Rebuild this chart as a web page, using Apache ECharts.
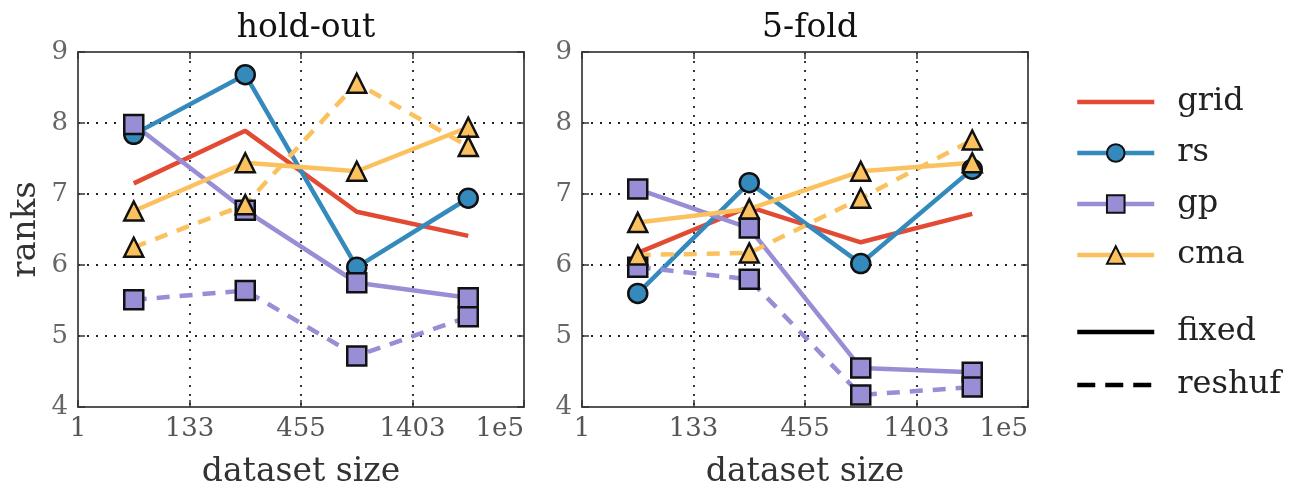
<!DOCTYPE html>
<html>
<head>
<meta charset="utf-8">
<script src="https://cdn.jsdelivr.net/npm/echarts@6/dist/echarts.min.js"></script>
<style>
  html, body { margin: 0; padding: 0; background: #fff; }
  #chart { width: 1290px; height: 497px; }
</style>
</head>
<body>
<div id="chart"></div>
<script>
// x tick labels (dataset size bins) and bin centres
var xLabels = ["1", "133", "455", "1403", "1e5"];
var xPos = [0.5, 1.5, 2.5, 3.5];

// hold-out panel
var holdGrid = [7.15, 7.89, 6.75, 6.41];
var holdRs = [7.84, 8.68, 5.97, 6.94];
var holdGp = [7.98, 6.77, 5.75, 5.54];
var holdCma = [6.76, 7.44, 7.32, 7.94];
var holdGpReshuf = [5.51, 5.64, 4.72, 5.27];
var holdCmaReshuf = [6.25, 6.85, 8.56, 7.67];

// 5-fold panel
var foldGrid = [6.17, 6.82, 6.32, 6.72];
var foldRs = [5.6, 7.16, 6.02, 7.35];
var foldGp = [7.07, 6.52, 4.55, 4.49];
var foldCma = [6.6, 6.79, 7.32, 7.44];
var foldGpReshuf = [5.97, 5.8, 4.17, 4.28];
var foldCmaReshuf = [6.14, 6.17, 6.94, 7.76];

var colors = { grid: "#E24A33", rs: "#348ABD", gp: "#988ED5", cma: "#FBC15E" };
var symbols = { grid: "none", rs: "circle", gp: "rect", cma: "triangle" };
var FONT = "DejaVu Serif";
var dash = [13, 10];
var LW = 4.5;

function pts(vals) {
    return vals.map(function(v, i) { return [xPos[i], v]; });
}

function mkSeries(name, vals, panel, reshuf) {
    return {
        name: name,
        type: "line",
        xAxisIndex: panel * 2,
        yAxisIndex: panel * 2,
        data: pts(vals),
        symbol: symbols[name],
        showSymbol: name !== "grid",
        symbolSize: 19,
        color: colors[name],
        itemStyle: { color: colors[name], borderColor: "#111", borderWidth: 2.5 },
        lineStyle: { width: LW, color: colors[name], type: reshuf ? dash : "solid" },
        emphasis: { disabled: true },
        animation: false,
        z: 3
    };
}

function xAxes(panel) {
    var base = {
        type: "value", gridIndex: panel, min: 0, max: 4, interval: 1,
        axisLine: { show: true, onZero: false, lineStyle: { color: "#555", width: 2 } },
        axisTick: { show: true, inside: true, length: 7, lineStyle: { color: "#333", width: 1.5 } },
        splitLine: { show: false }
    };
    var bottom = Object.assign({}, base, {
        position: "bottom",
        name: "dataset size", nameLocation: "middle", nameGap: 49,
        nameTextStyle: { fontFamily: FONT, fontSize: 33, color: "#333" },
        axisLabel: {
            fontFamily: FONT, fontSize: 26, color: "#555", margin: 9,
            alignMaxLabel: "right",
            formatter: function(v) { return xLabels[Math.round(v)]; }
        },
        splitLine: { show: true, lineStyle: { color: "#222", width: 1.8, type: [2, 7] } }
    });
    var top = Object.assign({}, base, { position: "top", axisLabel: { show: false } });
    return [bottom, top];
}

function yAxes(panel) {
    var base = {
        type: "value", gridIndex: panel, min: 4, max: 9, interval: 1,
        axisLine: { show: true, onZero: false, lineStyle: { color: "#555", width: 2 } },
        axisTick: { show: true, inside: true, length: 7, lineStyle: { color: "#333", width: 1.5 } },
        splitLine: { show: false }
    };
    var left = Object.assign({}, base, {
        position: "left",
        axisLabel: { fontFamily: FONT, fontSize: 26, color: "#666", margin: 10 },
        splitLine: { show: true, lineStyle: { color: "#222", width: 1.8, type: [2, 7] } }
    });
    if (panel === 0) {
        left.name = "ranks";
        left.nameLocation = "middle";
        left.nameGap = 35;
        left.nameTextStyle = { fontFamily: FONT, fontSize: 34, color: "#333" };
    }
    var right = Object.assign({}, base, { position: "right", axisLabel: { show: false } });
    return [left, right];
}

var series = [
    mkSeries("grid", holdGrid, 0, false),
    mkSeries("rs", holdRs, 0, false),
    mkSeries("gp", holdGp, 0, false),
    mkSeries("cma", holdCma, 0, false),
    mkSeries("gp", holdGpReshuf, 0, true),
    mkSeries("cma", holdCmaReshuf, 0, true),
    mkSeries("grid", foldGrid, 1, false),
    mkSeries("rs", foldRs, 1, false),
    mkSeries("gp", foldGp, 1, false),
    mkSeries("cma", foldCma, 1, false),
    mkSeries("gp", foldGpReshuf, 1, true),
    mkSeries("cma", foldCmaReshuf, 1, true),
    // legend-only entries for line style
    { name: "fixed", type: "line", data: [], symbol: "none", color: "#000",
      lineStyle: { color: "#000", width: LW, type: "solid" } },
    { name: "reshuf", type: "line", data: [], symbol: "none", color: "#000",
      lineStyle: { color: "#000", width: LW, type: [18, 10] } }
];

var legendText = { fontFamily: FONT, fontSize: 32, color: "#222", padding: [0, 0, 0, 18] };
var noSymbol = { opacity: 0 };

var chart = echarts.init(document.getElementById("chart"));
chart.setOption({
    backgroundColor: "#fff",
    animation: false,
    title: [
        { text: "hold-out", left: 301, top: 7, textAlign: "center",
          textStyle: { fontFamily: FONT, fontSize: 33, fontWeight: "normal", color: "#111" } },
        { text: "5-fold", left: 805, top: 7, textAlign: "center",
          textStyle: { fontFamily: FONT, fontSize: 33, fontWeight: "normal", color: "#111" } }
    ],
    grid: [
        { left: 78, top: 52, width: 446, height: 355 },
        { left: 582, top: 52, width: 446, height: 355 }
    ],
    xAxis: xAxes(0).concat(xAxes(1)),
    yAxis: yAxes(0).concat(yAxes(1)),
    legend: [
        { data: [{ name: "grid", itemStyle: noSymbol }, "rs", "gp", "cma"],
          orient: "vertical", left: 1070, top: 81,
          itemWidth: 77, itemHeight: 22, itemGap: 19, selectedMode: false,
          lineStyle: { width: LW }, textStyle: legendText },
        { data: [{ name: "fixed", itemStyle: noSymbol }, { name: "reshuf", itemStyle: noSymbol }],
          orient: "vertical", left: 1070, top: 311,
          itemWidth: 77, itemHeight: 22, itemGap: 21, selectedMode: false,
          lineStyle: { width: LW }, textStyle: legendText }
    ],
    series: series
});
</script>
</body>
</html>
